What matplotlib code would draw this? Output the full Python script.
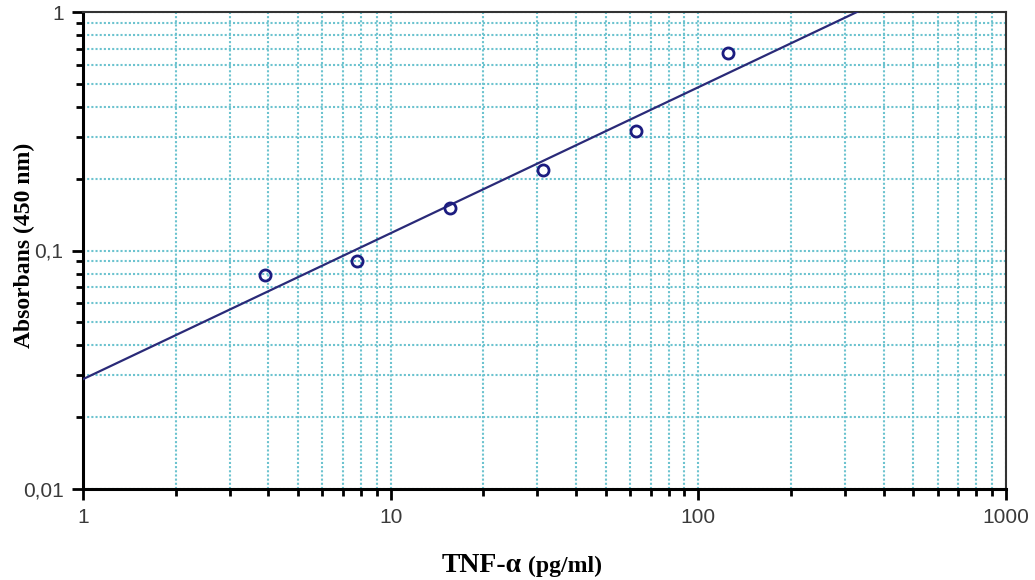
import numpy as np
import matplotlib.pyplot as plt
from matplotlib.ticker import LogLocator, FixedLocator, FixedFormatter, NullFormatter

plt.rcParams['font.family'] = ['Liberation Sans', 'DejaVu Sans']

# standard concentrations (pg/ml) and measured absorbance
conc = [3.9, 7.8, 15.6, 31.25, 62.5, 125]
absorb = [0.079, 0.090, 0.151, 0.218, 0.317, 0.673]

xticks = [1, 10, 100, 1000]
xticklabels = ['1', '10', '100', '1000']
yticks = [0.01, 0.1, 1]
yticklabels = ['0,01', '0,1', '1']

# log-log regression line
b, a = np.polyfit(np.log10(conc), np.log10(absorb), 1)
xl = np.logspace(0, 3, 200)
yl = 10 ** (a + b * np.log10(xl))

grid_c = '#6cc3cf'
navy = '#1c1c80'

fig = plt.figure(figsize=(10.35, 5.8), dpi=100)
ax = fig.add_axes([83 / 1035, 1 - 489 / 580, (1006 - 83) / 1035, (489 - 12) / 580])
ax.set_xscale('log')
ax.set_yscale('log')
ax.set_xlim(1, 1000)
ax.set_ylim(0.01, 1)

ax.plot(xl, yl, color='#2a2a78', lw=1.6, zorder=3)
ax.plot(conc, absorb, 'o', ms=8, mfc='none', mec=navy, mew=2, zorder=4)

ax.xaxis.set_major_locator(FixedLocator(xticks))
ax.xaxis.set_major_formatter(FixedFormatter(xticklabels))
ax.yaxis.set_major_locator(FixedLocator(yticks))
ax.yaxis.set_major_formatter(FixedFormatter(yticklabels))
ax.xaxis.set_minor_locator(LogLocator(base=10, subs=np.arange(2, 10)))
ax.yaxis.set_minor_locator(LogLocator(base=10, subs=np.arange(2, 10)))
ax.xaxis.set_minor_formatter(NullFormatter())
ax.yaxis.set_minor_formatter(NullFormatter())

ax.grid(True, which='both', color=grid_c, ls=(0, (1.0, 1.0)), lw=1.5)
ax.set_axisbelow(True)

ax.tick_params(which='major', direction='out', length=8, width=2, color='black',
               labelsize=15, labelcolor='#3a3a3a', pad=6)
ax.tick_params(which='minor', direction='out', length=5, width=2, color='black')

for s in ['left', 'bottom']:
    ax.spines[s].set_linewidth(2.2)
for s in ['top', 'right']:
    ax.spines[s].set_linewidth(1.5)
    ax.spines[s].set_color('#333333')

fig.text(442 / 1035, 1 - 572 / 580, 'TNF-α', family='Liberation Serif',
         weight='bold', fontsize=20, va='baseline', ha='left')
fig.text(528 / 1035, 1 - 572 / 580, '(pg/ml)', family='Liberation Serif',
         weight='bold', fontsize=17, va='baseline', ha='left')
fig.text(24 / 1035, 1 - 245 / 580, 'Absorbans (450 nm)', family='Liberation Serif',
         weight='bold', fontsize=17, rotation=90, va='center', ha='center')

plt.savefig('out.png', dpi=100)
